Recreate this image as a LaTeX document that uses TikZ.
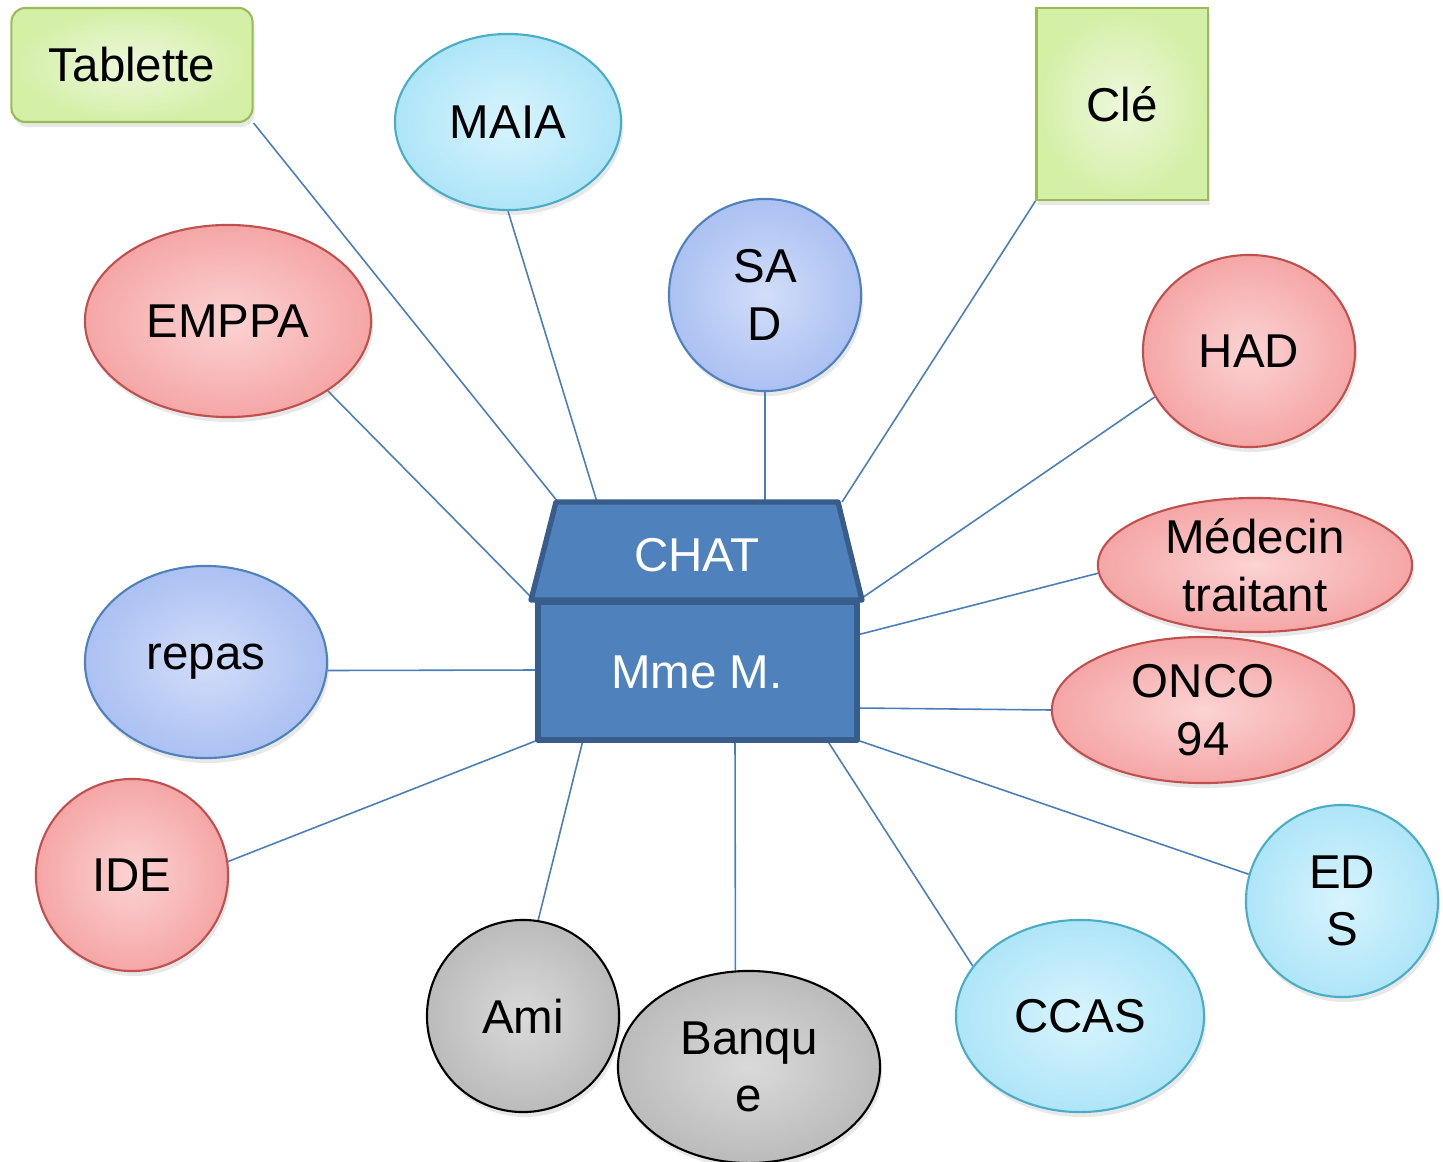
\documentclass[tikz,border=0pt]{standalone}
\usepackage{fontspec}
\setmainfont{Liberation Sans}
\usetikzlibrary{shapes.geometric,shadows,backgrounds}
\definecolor{lnk}{HTML}{4A7EBB}
\definecolor{grnB}{HTML}{9BBB59}\definecolor{grnI}{HTML}{EDF8DC}\definecolor{grnO}{HTML}{D4EFA6}
\definecolor{cyB}{HTML}{4BACC6}\definecolor{cyI}{HTML}{D8F4FD}\definecolor{cyO}{HTML}{AEE5F8}
\definecolor{blB}{HTML}{4F81BD}\definecolor{blI}{HTML}{D2DDF9}\definecolor{blO}{HTML}{ABC1F2}
\definecolor{rdB}{HTML}{C0504D}\definecolor{rdI}{HTML}{FCD3D3}\definecolor{rdO}{HTML}{F5A6A6}
\definecolor{gyB}{HTML}{000000}\definecolor{gyI}{HTML}{DADADA}\definecolor{gyO}{HTML}{BBBBBB}
\definecolor{houseF}{HTML}{4F81BD}\definecolor{houseB}{HTML}{385D8A}
\begin{document}
\begin{tikzpicture}[x=0.01cm,y=-0.01cm,
  every node/.style={font=\fontsize{13.5pt}{16.4pt}\selectfont, align=center, inner sep=0pt},
  shd/.style={drop shadow={opacity=0.18,shadow xshift=0.02cm,shadow yshift=-0.05cm}},
  bub/.style={ellipse, line width=0.6pt, shd, shading=radial},
  grn/.style={draw=grnB, inner color=grnI, outer color=grnO},
  cy/.style={draw=cyB, inner color=cyI, outer color=cyO},
  bl/.style={draw=blB, inner color=blI, outer color=blO},
  rd/.style={draw=rdB, inner color=rdI, outer color=rdO},
  gy/.style={draw=gyB, inner color=gyI, outer color=gyO},
  link/.style={draw=lnk, line width=0.45pt},
  houseline/.style={draw=houseB, fill=houseF, line width=1.5pt, line join=round},
  housetext/.style={text=white}
]
\useasboundingbox (0,0) rectangle (1443,1161);

% outer nodes
\node[rectangle, rounded corners=0.14cm, line width=0.6pt, shd, shading=radial, grn,
      minimum width=2.41cm, minimum height=1.14cm] (tab) at (132,65) {Tablette};
\node[rectangle, line width=0.6pt, shd, shading=radial, grn,
      minimum width=1.71cm, minimum height=1.92cm] (cle) at (1122,104) {Clé};
\node[bub, cy, minimum width=2.26cm, minimum height=1.76cm] (maia) at (508,122) {MAIA};
\node[bub, bl, minimum width=1.92cm, minimum height=1.92cm] (sad) at (765,295) {SA\\D};
\node[bub, rd, minimum width=2.86cm, minimum height=1.92cm] (emppa) at (228,321) {EMPPA};
\node[bub, rd, minimum width=2.12cm, minimum height=1.92cm] (had) at (1249,351) {HAD};
\node[bub, rd, minimum width=3.14cm, minimum height=1.34cm] (med) at (1255,565) {Médecin\\traitant};
\node[bub, rd, minimum width=3.02cm, minimum height=1.46cm] (onco) at (1203,710) {ONCO\\94};
\node[bub, bl, minimum width=2.42cm, minimum height=1.92cm] (repas) at (206,662) {\raisebox{-0.08cm}{repas}};
\node[bub, rd, minimum width=1.92cm, minimum height=1.92cm] (ide) at (132,875) {IDE};
\node[bub, cy, minimum width=1.92cm, minimum height=1.92cm] (eds) at (1342,901) {ED\\S};
\node[bub, cy, minimum width=2.48cm, minimum height=1.92cm] (ccas) at (1080,1016) {CCAS};
\node[bub, gy, minimum width=1.92cm, minimum height=1.92cm] (ami) at (523,1016) {Ami};
\node[bub, gy, minimum width=2.62cm, minimum height=1.92cm] (banque) at (749,1067) {Banqu\\e};

% house
\draw[houseline] (556,502) -- (838,502) -- (862,600) -- (531,600) -- cycle;
\draw[houseline] (538,602) rectangle (857,740);
\node[housetext] (roof) at (697,555) {CHAT};
\node[housetext] (body) at (697,672) {Mme M.};

% attachment points on the house
\coordinate (hTab) at (558,502);
\coordinate (hMaia) at (597,502);
\coordinate (hSad) at (765,502);
\coordinate (hCle) at (842,502);
\coordinate (hEmppa) at (531,597);
\coordinate (hHad) at (862,598);
\coordinate (hMed) at (857,635);
\coordinate (hOnco) at (857,708);
\coordinate (hRepas) at (538,670);
\coordinate (hIde) at (538,740);
\coordinate (hAmi) at (583,740);
\coordinate (hBanque) at (735,740);
\coordinate (hCcas) at (827,740);
\coordinate (hEds) at (857,740);

\begin{pgfonlayer}{background}
\draw[link] (tab.south east) -- (hTab);
\draw[link] (maia.-90) -- (hMaia);
\draw[link] (sad.-90) -- (hSad);
\draw[link] (cle.south west) -- (hCle);
\draw[link] (emppa.-35.6) -- (hEmppa);
\draw[link] (had.-154.4) -- (hHad);
\draw[link] (med.183.7) -- (hMed);
\draw[link] (onco.180) -- (hOnco);
\draw[link] (repas.-4.5) -- (hRepas);
\draw[link] (ide.8.9) -- (hIde);
\draw[link] (ami.81) -- (hAmi);
\draw[link] (banque.98.3) -- (hBanque);
\draw[link] (ccas.155.4) -- (hCcas);
\draw[link] (eds.164.5) -- (hEds);
\end{pgfonlayer}
\end{tikzpicture}
\end{document}
